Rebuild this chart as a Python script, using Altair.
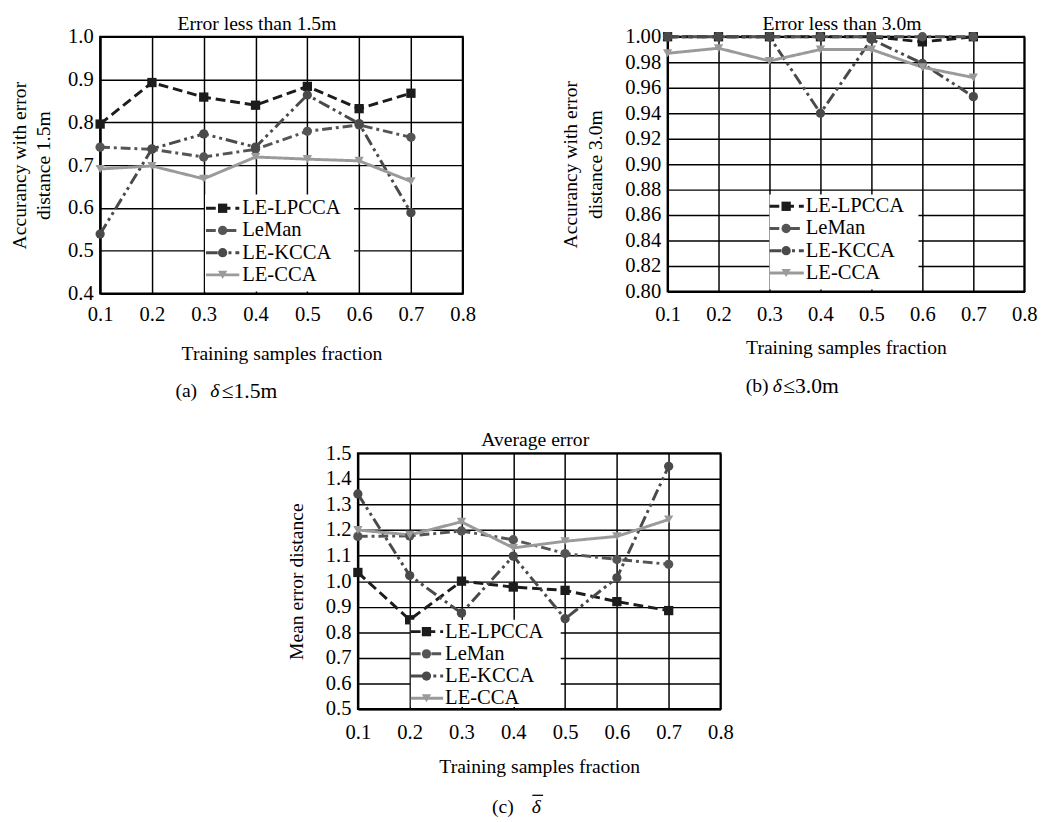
import altair as alt
import pandas as pd

FONT = "Liberation Serif"

fractions = [0.1, 0.2, 0.3, 0.4, 0.5, 0.6, 0.7]
series = ["LE-LPCCA", "LeMan", "LE-KCCA", "LE-CCA"]

# (a) error less than 1.5 m
a_lpcca = [0.796, 0.893, 0.859, 0.840, 0.884, 0.832, 0.868]
a_leman = [0.742, 0.737, 0.719, 0.737, 0.779, 0.794, 0.765]
a_kcca = [0.539, 0.738, 0.773, 0.742, 0.864, 0.797, 0.589]
a_cca = [0.691, 0.698, 0.668, 0.719, 0.714, 0.710, 0.662]

# (b) error less than 3.0 m
b_lpcca = [1.000, 1.000, 1.000, 1.000, 1.000, 0.996, 1.000]
b_leman = [1.000, 1.000, 1.000, 1.000, 1.000, 1.000, 1.000]
b_kcca = [1.000, 1.000, 1.000, 0.940, 0.998, 0.979, 0.953]
b_cca = [0.987, 0.991, 0.981, 0.990, 0.990, 0.976, 0.968]

# (c) average error
c_lpcca = [1.034, 0.849, 1.000, 0.977, 0.964, 0.920, 0.885]
c_leman = [1.175, 1.177, 1.196, 1.162, 1.108, 1.085, 1.066]
c_kcca = [1.341, 1.022, 0.875, 1.098, 0.853, 1.013, 1.449]
c_cca = [1.200, 1.181, 1.232, 1.130, 1.156, 1.175, 1.241]

x_ticks = [0.1, 0.2, 0.3, 0.4, 0.5, 0.6, 0.7, 0.8]
a_yticks = [0.4, 0.5, 0.6, 0.7, 0.8, 0.9, 1.0]
b_yticks = [0.80, 0.82, 0.84, 0.86, 0.88, 0.90, 0.92, 0.94, 0.96, 0.98, 1.00]
c_yticks = [0.5, 0.6, 0.7, 0.8, 0.9, 1.0, 1.1, 1.2, 1.3, 1.4, 1.5]

colors = ["#1c1c1c", "#555555", "#4a4a4a", "#9a9a9a"]
dashes = [[10, 5], [10, 4, 3, 4], [12, 4, 3, 4, 3, 4], [1, 0]]
shapes = ["square", "circle", "circle", "triangle-down"]
sizes = [90, 90, 30, 120]


def long_df(vals):
    rows = []
    for name, v in zip(series, vals):
        for f, y in zip(fractions, v):
            rows.append({"series": name, "fraction": f, "value": y})
    return pd.DataFrame(rows)


color_enc = alt.Color("series:N", scale=alt.Scale(domain=series, range=colors), legend=None)
dash_enc = alt.StrokeDash("series:N", scale=alt.Scale(domain=series, range=dashes), legend=None)
shape_enc = alt.Shape("series:N", scale=alt.Scale(domain=series, range=shapes), legend=None)
size_enc = alt.Size("series:N", scale=alt.Scale(domain=series, range=sizes), legend=None)


def txt(text, x, y, align="center", style="normal", size=20):
    return alt.Chart(pd.DataFrame({"t": [text]})).mark_text(
        fontSize=size, font=FONT, color="black", baseline="middle", align=align,
        fontStyle=style).encode(x=alt.value(x), y=alt.value(y), text="t:N")


def panel(vals, title, title_dx, title_off, ytitle, ydomain, yticks, yfmt, ytpad,
          xlpad, xtpad, cap, w, h, leg, bar=False):
    df = long_df(vals)
    x = alt.X("fraction:Q",
              scale=alt.Scale(domain=[0.1, 0.8], nice=False, zero=False),
              axis=alt.Axis(values=x_ticks, format=".1f", title="Training samples fraction",
                            labelFlush=False, labelOverlap=False, labelPadding=xlpad,
                            titlePadding=xtpad))
    y = alt.Y("value:Q",
              scale=alt.Scale(domain=ydomain, nice=False, zero=False),
              axis=alt.Axis(values=yticks, format=yfmt, title=ytitle,
                            labelOverlap=False, labelPadding=7, titlePadding=ytpad,
                            titleLineHeight=25))
    base = alt.Chart(df)
    lines = base.mark_line(strokeWidth=3).encode(x=x, y=y, color=color_enc,
                                                 strokeDash=dash_enc, detail="series:N")
    points = base.mark_point(filled=True, opacity=1).encode(
        x=x, y=y, color=color_enc, shape=shape_enc, size=size_enc)
    data_layer = alt.layer(lines, points)

    lx0, lx1, mx, tx, r0, r1, bx0, bx1, by0, by1 = leg
    bg = alt.Chart(pd.DataFrame({"k": [0]})).mark_rect(color="white").encode(
        x=alt.value(bx0), x2=alt.value(bx1), y=alt.value(by0), y2=alt.value(by1))
    legdf = pd.DataFrame({"series": series})
    ly = alt.Y("series:N", scale=alt.Scale(type="point", domain=series, range=[r0, r1], padding=0),
               axis=None)
    lrule = alt.Chart(legdf).mark_rule(strokeWidth=3).encode(
        x=alt.value(lx0), x2=alt.value(lx1), y=ly, color=color_enc, strokeDash=dash_enc)
    lpt = alt.Chart(legdf).mark_point(filled=True, opacity=1).encode(
        x=alt.value(mx), y=ly, color=color_enc, shape=shape_enc, size=size_enc)
    ltxt = alt.Chart(legdf).mark_text(align="left", baseline="middle", fontSize=21,
                                      font=FONT, color="black").encode(
        x=alt.value(tx), y=ly, text="series:N")
    legend_layer = alt.layer(lrule, lpt, ltxt)

    prefix, suffix, dx, pre_r, suf_l, cdy = cap
    cy = h + cdy
    layers = [data_layer, bg, legend_layer,
              txt(prefix, pre_r, cy, align="right"),
              txt("\u03b4", dx, cy, style="italic")]
    if suffix:
        layers.append(txt(suffix, suf_l, cy, align="left", size=22))
    if bar:
        layers.append(alt.Chart(pd.DataFrame({"k": [0]})).mark_rule(
            color="black", strokeWidth=1.3).encode(
            x=alt.value(dx - 4), x2=alt.value(dx + 7), y=alt.value(cy - 12)))

    return alt.layer(*layers).resolve_scale(y="independent").properties(
        width=w, height=h,
        title=alt.TitleParams(title, dx=title_dx, offset=title_off, fontSize=20, font=FONT,
                              fontWeight="normal", color="black", frame="group",
                              anchor="middle"))


pa = panel([a_lpcca, a_leman, a_kcca, a_cca], "Error less than 1.5m", -25, -8,
           ["Accurancy with error", "distance 1.5m"], [0.4, 1.0], a_yticks, ".1f", 14,
           11, 19,
           ("(a)", "\u22641.5m", 117, 99, 124, 100), 370, 262,
           (108, 142, 125, 145, 175, 243, 107, 259, 161, 260))
pb = panel([b_lpcca, b_leman, b_kcca, b_cca], "Error less than 3.0m", -4, -8,
           ["Accurancy with error", "distance 3.0m"], [0.8, 1.0], b_yticks, ".2f", 20,
           13, 13,
           ("(b)", "\u22643.0m", 112, 103, 118, 97), 364, 260,
           (104, 139, 121, 141, 173, 241, 104, 256, 161, 258))
pc = panel([c_lpcca, c_leman, c_kcca, c_cca], "Average error", -4, -8,
           "Mean error distance", [0.5, 1.5], c_yticks, ".1f", 19,
           13, 15,
           ("(c)", "", 182, 159, 0, 100), 370, 261,
           (54, 87, 70, 89, 182, 250, 54, 207, 170, 259), bar=True)

spacer = alt.Chart(pd.DataFrame({"k": [0]})).mark_point(opacity=0).encode(
    x=alt.value(0), y=alt.value(0)).properties(
    width=189, height=10, view=alt.ViewBackground(strokeOpacity=0))

chart = alt.vconcat(
    alt.hconcat(pa, pb, spacing=84),
    alt.hconcat(spacer, pc, spacing=0),
    spacing=27,
).properties(
    padding={"left": 0, "top": -3, "right": 0, "bottom": 0}
).configure(font=FONT).configure_view(
    stroke="black", strokeWidth=2
).configure_axis(
    grid=True, gridColor="black", gridWidth=1.5, gridOpacity=1,
    domainColor="black", domainWidth=2, tickSize=0, ticks=False,
    labelFontSize=21, labelFont=FONT, labelColor="black",
    titleFontSize=20, titleFont=FONT, titleFontWeight="normal", titleColor="black"
)

chart.save("out.html", embed_options={"renderer": "svg", "actions": False})
